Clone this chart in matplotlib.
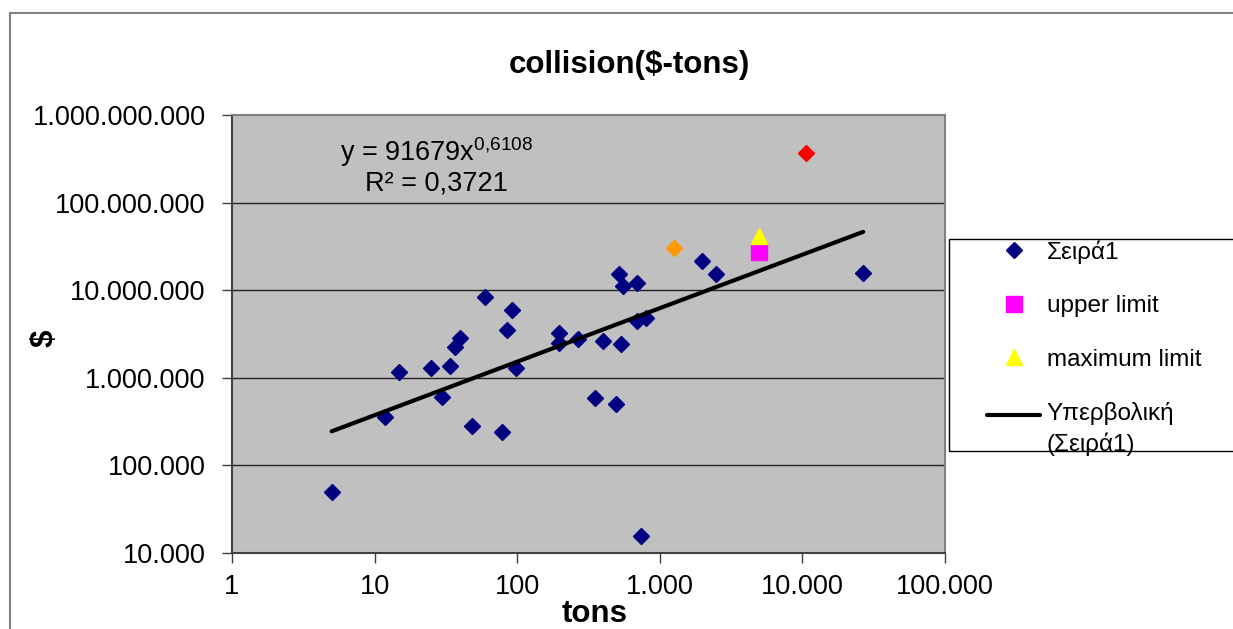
import matplotlib
matplotlib.use("Agg")
import matplotlib.pyplot as plt
from matplotlib.patches import Rectangle
from matplotlib.lines import Line2D

# Σειρά1 (tons, $)
tons = [5, 11.8, 14.8, 24.9, 29.7, 33.8, 36.6, 39.7, 48.2, 59.4,
        78.2, 84.8, 91.9, 98, 196, 196, 267, 402, 534, 353,
        493, 515, 555, 692, 695, 800, 738, 1977, 2466, 26700]
dollars = [50000, 357000, 1160000, 1290000, 604000, 1360000, 2250000, 2850000, 282000, 8350000,
           240000, 3520000, 5940000, 1290000, 3270000, 2520000, 2770000, 2650000, 2430000, 583000,
           498000, 15300000, 11200000, 12200000, 4450000, 4850000, 15600, 21400000, 15300000, 15700000]

# single highlighted points
orange_pt = (1264, 30100000)
red_pt = (10650, 366000000)
upper_limit = (5000, 27100000)
maximum_limit = (5000, 41600000)

# power trendline shown on the chart
trend_a = 91679
trend_b = 0.6108
trend_r2 = "0,3721"

x_ticks = [1, 10, 100, 1000, 10000, 100000]
x_labels = ["1", "10", "100", "1.000", "10.000", "100.000"]
y_ticks = [1e4, 1e5, 1e6, 1e7, 1e8, 1e9]
y_labels = ["10.000", "100.000", "1.000.000", "10.000.000", "100.000.000", "1.000.000.000"]


def main():
    plt.rcParams["font.family"] = ["Liberation Sans", "DejaVu Sans"]
    plt.rcParams["mathtext.fontset"] = "custom"
    plt.rcParams["mathtext.rm"] = "Liberation Sans"
    plt.rcParams["mathtext.it"] = "Liberation Sans"

    W, H = 1233, 629
    fig = plt.figure(figsize=(W / 100, H / 100), dpi=100)
    ax = fig.add_axes([232 / W, 1 - 553 / H, (945 - 232) / W, (553 - 115) / H])
    ax.set_facecolor("#C0C0C0")
    ax.set_xscale("log")
    ax.set_yscale("log")
    ax.set_xlim(1, 100000)
    ax.set_ylim(1e4, 1e9)

    for y in y_ticks[1:-1]:
        ax.axhline(y, color="#222222", lw=1.0, zorder=1)

    ax.plot(tons, dollars, "D", color="#000080", ms=7.8, mec="#000080", zorder=3)
    ax.plot(*orange_pt, "D", color="#FF9900", ms=7.8, zorder=3)
    ax.plot(*red_pt, "D", color="#FF0000", ms=7.8, zorder=3)
    ax.plot(*upper_limit, "s", color="#FF00FF", ms=11, zorder=3)
    ax.plot(*maximum_limit, "^", color="#FFFF00", ms=11, zorder=3)

    x0, x1 = min(tons), max(tons)
    ax.plot([x0, x1], [trend_a * x0 ** trend_b, trend_a * x1 ** trend_b],
            color="black", lw=3, solid_capstyle="round", zorder=4)

    ax.text(436 / W, 1 - 166 / H, "y = 91679x$^{0{,}6108}$\nR² = " + trend_r2,
            transform=fig.transFigure, ha="center", va="center",
            multialignment="center", fontsize=19.5, linespacing=1.05)

    ax.set_xticks(x_ticks)
    ax.set_xticklabels(x_labels)
    ax.set_yticks(y_ticks)
    ax.set_yticklabels(y_labels)
    ax.minorticks_off()
    ax.tick_params(axis="both", direction="out", length=7, width=1,
                   color="#404040", labelsize=19.5)
    ax.tick_params(axis="x", pad=8)
    ax.tick_params(axis="y", pad=12)
    for side in ["top", "right"]:
        ax.spines[side].set_color("#808080")
        ax.spines[side].set_linewidth(1.5)
    for side in ["left", "bottom"]:
        ax.spines[side].set_color("#404040")
        ax.spines[side].set_linewidth(1.5)

    fig.text(629.5 / W, 1 - 73 / H, "collision($-tons)", ha="center", va="baseline",
             fontsize=22.5, fontweight="bold")
    fig.text(595 / W, 1 - 622 / H, "tons", ha="center", va="baseline",
             fontsize=22.5, fontweight="bold")
    fig.text(45 / W, 1 - 338 / H, "$", ha="center", va="center", rotation=90,
             fontsize=22.5, fontweight="bold")

    # chart border and legend box
    fig.patches.append(Rectangle((10 / W, -0.2), 1.5, 1.2 - 13 / H, transform=fig.transFigure,
                                 fill=False, edgecolor="#808080", lw=1.5))
    fig.patches.append(Rectangle((949 / W, 1 - 451 / H), 0.5, (451 - 239) / H,
                                 transform=fig.transFigure, facecolor="white",
                                 edgecolor="black", lw=1))

    handles = [
        Line2D([], [], ls="none", marker="D", color="#000080", ms=7.8),
        Line2D([], [], ls="none", marker="s", color="#FF00FF", ms=11),
        Line2D([], [], ls="none", marker="^", color="#FFFF00", ms=11),
        Line2D([], [], color="black", lw=3, solid_capstyle="round"),
    ]
    labels = ["Σειρά1", "upper limit", "maximum limit", "Υπερβολική\n(Σειρά1)"]
    leg = fig.legend(handles, labels, loc="upper left", bbox_to_anchor=(987 / W, 1 - 240 / H),
                     frameon=False, fontsize=17.5, borderpad=0, borderaxespad=0,
                     handlelength=2.2, handletextpad=0.25, labelspacing=1.3)
    leg.set_zorder(5)
    for t in leg.get_texts():
        t.set_linespacing(1.4)
    # keep the trendline handle level with the first line of its label
    line_handle = leg.legend_handles[3]
    line_handle.set_ydata([v + 10 for v in line_handle.get_ydata()])

    fig.savefig("out.png", dpi=100)


if __name__ == "__main__":
    main()
